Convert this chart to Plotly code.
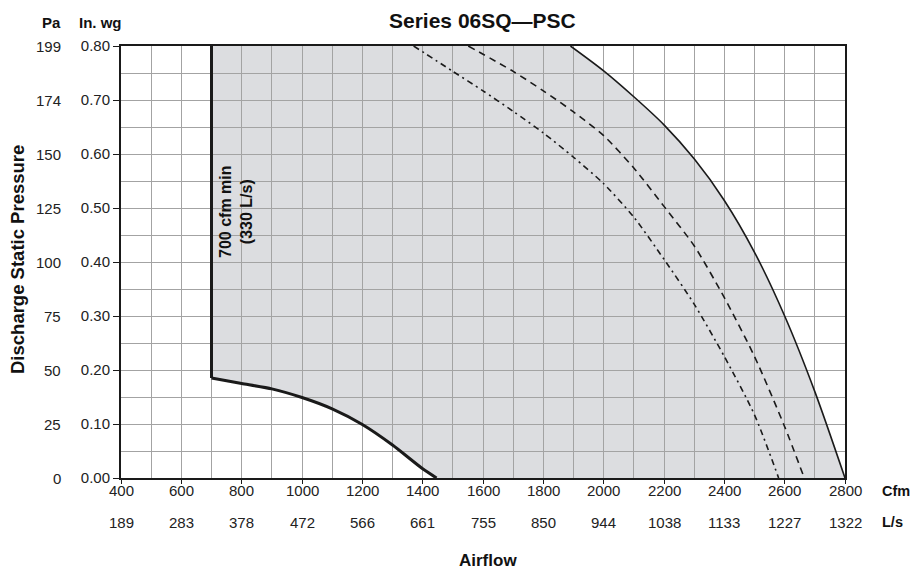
import plotly.graph_objects as go

# ---------------- data ----------------
cfm_ticks = [400, 600, 800, 1000, 1200, 1400, 1600, 1800, 2000, 2200, 2400, 2600, 2800]
cfm_labels = ["400", "600", "800", "1000", "1200", "1400", "1600", "1800", "2000", "2200", "2400", "2600", "2800"]
ls_labels = ["189", "283", "378", "472", "566", "661", "755", "850", "944", "1038", "1133", "1227", "1322"]
inwg_ticks = [0.0, 0.1, 0.2, 0.3, 0.4, 0.5, 0.6, 0.7, 0.8]
pa_labels = ["0", "25", "50", "75", "100", "125", "150", "174", "199"]

min_cfm = 700
top_inwg = 0.80

# lower (minimum) boundary curve
low_x = [700, 800, 900, 1000, 1100, 1200, 1300, 1400, 1446]
low_y = [0.185, 0.175, 0.165, 0.149, 0.128, 0.099, 0.061, 0.017, 0.0]

# outer solid curve (max)
max_x = [1890, 2000, 2100, 2200, 2300, 2400, 2500, 2600, 2700, 2800]
max_y = [0.80, 0.754, 0.706, 0.654, 0.591, 0.514, 0.418, 0.300, 0.160, 0.0]

# long-dash curve
dash_x = [1551, 1700, 1800, 1900, 2000, 2100, 2200, 2300, 2400, 2500, 2600, 2665]
dash_y = [0.80, 0.753, 0.717, 0.678, 0.634, 0.574, 0.503, 0.430, 0.334, 0.225, 0.095, 0.0]

# dash-dot curve
dd_x = [1370, 1500, 1600, 1700, 1800, 1900, 2000, 2100, 2200, 2300, 2400, 2500, 2580]
dd_y = [0.80, 0.753, 0.717, 0.679, 0.639, 0.594, 0.545, 0.483, 0.405, 0.322, 0.225, 0.117, 0.0]

FONT = "Liberation Sans, Arial, sans-serif"
GRID = "#a3a3a3"
INK = "#1a1a1a"
TXT = "#222"

fig = go.Figure()

# shaded operating region (path built from the data arrays)
pts = [(min_cfm, low_y[0]), (min_cfm, top_inwg)]
pts += list(zip(max_x, max_y))
pts += list(zip(reversed(low_x), reversed(low_y)))
path = "M " + " L ".join(f"{x},{y}" for x, y in pts) + " Z"
fig.add_shape(type="path", path=path, xref="x", yref="y",
              fillcolor="#dcdde0", line=dict(width=0), layer="below")

# boundary lines
fig.add_trace(go.Scatter(x=[min_cfm, min_cfm], y=[low_y[0], top_inwg], mode="lines",
                         line=dict(color=INK, width=3), hoverinfo="skip"))
fig.add_trace(go.Scatter(x=low_x, y=low_y, mode="lines",
                         line=dict(color=INK, width=3, shape="spline", smoothing=0.6), hoverinfo="skip"))
fig.add_trace(go.Scatter(x=max_x, y=max_y, mode="lines",
                         line=dict(color=INK, width=1.6, shape="spline", smoothing=0.8), hoverinfo="skip"))
fig.add_trace(go.Scatter(x=dash_x, y=dash_y, mode="lines",
                         line=dict(color=INK, width=1.6, dash="7px,5px", shape="spline", smoothing=0.7),
                         hoverinfo="skip"))
fig.add_trace(go.Scatter(x=dd_x, y=dd_y, mode="lines",
                         line=dict(color=INK, width=1.6, dash="6px,4px,2px,4px", shape="spline", smoothing=0.7),
                         hoverinfo="skip"))

ann = []
# Pa labels
for v, lab in zip(inwg_ticks, pa_labels):
    ann.append(dict(x=0, xref="paper", xshift=-58, y=v, yref="y", text=lab, showarrow=False,
                    xanchor="right", yanchor="middle", font=dict(family=FONT, size=15, color=TXT)))
# Cfm tick labels
for c, lab in zip(cfm_ticks, cfm_labels):
    ann.append(dict(x=c, xref="x", y=0, yref="paper", yshift=-12, text=lab, showarrow=False,
                    xanchor="center", yanchor="middle", font=dict(family=FONT, size=15, color=TXT)))
# L/s labels
for c, lab in zip(cfm_ticks, ls_labels):
    ann.append(dict(x=c, xref="x", y=0, yref="paper", yshift=-44, text=lab, showarrow=False,
                    xanchor="center", yanchor="middle", font=dict(family=FONT, size=15, color=TXT)))

bold = dict(family=FONT, size=15, color="#111")
ann += [
    dict(x=(482 - 121) / 724, xref="paper", y=1, yref="paper", yshift=26, text="<b>Series 06SQ—PSC</b>",
         showarrow=False, xanchor="center", yanchor="middle", font=dict(family=FONT, size=21, color="#111")),
    dict(x=0, xref="paper", xshift=-70, y=1, yref="paper", yshift=24, text="<b>Pa</b>", showarrow=False,
         xanchor="center", yanchor="middle", font=bold),
    dict(x=0, xref="paper", xshift=-21, y=1, yref="paper", yshift=24, text="<b>In. wg</b>", showarrow=False,
         xanchor="center", yanchor="middle", font=bold),
    dict(x=1, xref="paper", xshift=35, y=0, yref="paper", yshift=-13, text="<b>Cfm</b>", showarrow=False,
         xanchor="left", yanchor="middle", font=dict(family=FONT, size=14.5, color="#111")),
    dict(x=1, xref="paper", xshift=35, y=0, yref="paper", yshift=-44, text="<b>L/s</b>", showarrow=False,
         xanchor="left", yanchor="middle", font=dict(family=FONT, size=14.5, color="#111")),
    dict(x=(488 - 121) / 724, xref="paper", y=0, yref="paper", yshift=-82, text="<b>Airflow</b>",
         showarrow=False, xanchor="center", yanchor="middle", font=dict(family=FONT, size=17, color="#111")),
    dict(x=0, xref="paper", xshift=-104, y=(478 - 260) / 432, yref="paper",
         text="<b>Discharge Static Pressure</b>", textangle=-90, showarrow=False,
         xanchor="center", yanchor="middle", font=dict(family=FONT, size=18.5, color="#111")),
    dict(x=781, xref="x", y=0.4926, yref="y", text="<b>700 cfm min<br>(330 L/s)</b>", textangle=-90,
         showarrow=False, xanchor="center", yanchor="middle", align="center",
         font=dict(family=FONT, size=16, color="#111")),
]

fig.update_layout(
    width=910, height=572,
    margin=dict(l=121, r=65, t=46, b=94, autoexpand=False),
    paper_bgcolor="white", plot_bgcolor="white",
    showlegend=False,
    hovermode=False,
    annotations=ann,
    font=dict(family=FONT, size=15, color=TXT),
    xaxis=dict(range=[400, 2800], tickvals=cfm_ticks, showticklabels=False,
               showgrid=True, gridcolor=GRID, gridwidth=1,
               minor=dict(dtick=100, tick0=400, showgrid=True, gridcolor=GRID, gridwidth=1),
               showline=True, linecolor=INK, linewidth=2, mirror=True,
               ticks="outside", ticklen=4, tickcolor=INK, zeroline=False),
    yaxis=dict(range=[0, 0.8], tickvals=inwg_ticks, tickformat=".2f",
               showgrid=True, gridcolor=GRID, gridwidth=1,
               minor=dict(dtick=0.05, tick0=0, showgrid=True, gridcolor=GRID, gridwidth=1),
               showline=True, linecolor=INK, linewidth=2, mirror=True,
               ticks="outside", ticklen=6, tickcolor=INK, zeroline=False,
               tickfont=dict(family=FONT, size=15, color=TXT)),
)

fig.write_html("out.html", config={"displayModeBar": False},
               post_script="document.body.style.margin='0px';document.body.style.overflow='hidden';")
